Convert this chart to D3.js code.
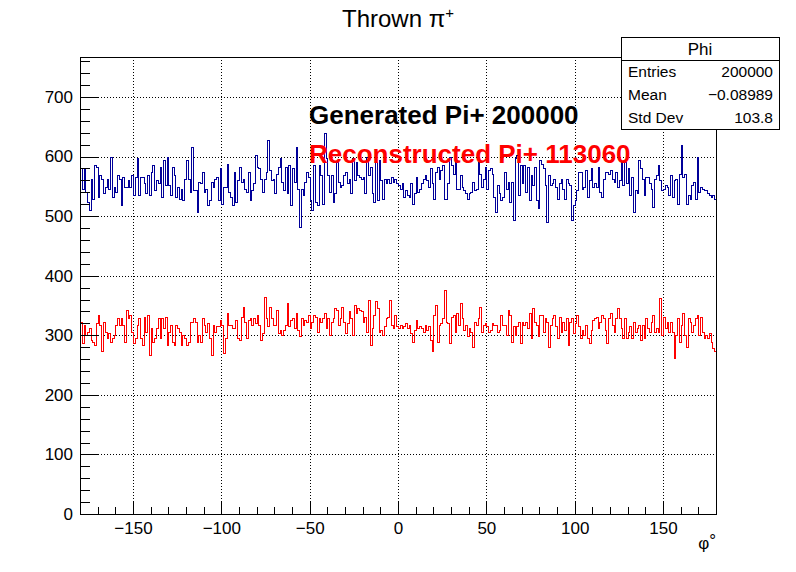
<!DOCTYPE html>
<html><head><meta charset="utf-8">
<script src="https://cdn.jsdelivr.net/npm/d3@7"></script>
<style>body{margin:0;background:#fff}svg{display:block}text{font-family:"Liberation Sans",Arial,Helvetica,sans-serif}</style>
</head><body>
<script>
// Histogram "Phi": 360 bins of 1 degree from -180 to 180
const xMin = -180, xMax = 180, binWidth = 1;
const generated = [
580,546,580,541,524,510,563,529,585,583,532,569,563,538,549,563,546,599,532,549,541,569,563,518,566,549,549,560,549,569,535,566,597,535,566,566,555,538,569,535,574,585,543,560,555,583,532,594,552,599,552,535,583,569,532,549,529,546,527,563,
594,563,541,616,543,543,507,557,555,574,541,546,518,527,557,549,563,566,527,580,521,549,549,588,541,532,518,574,524,560,583,557,563,546,541,574,527,543,555,602,583,580,563,541,563,574,627,577,560,563,538,571,583,597,557,543,583,538,585,518,
580,557,616,546,482,546,535,557,574,566,527,510,585,524,518,585,569,521,639,597,569,541,569,524,538,591,557,549,552,569,574,555,563,538,597,560,591,569,566,563,566,538,599,569,583,538,524,591,527,594,560,529,563,555,563,555,566,557,563,555,
552,546,555,532,543,535,532,555,521,538,566,541,546,555,563,569,560,549,580,555,529,574,583,563,577,585,529,529,555,599,585,571,594,546,546,569,549,543,538,529,538,541,557,543,546,591,571,549,563,583,546,577,580,571,532,507,552,538,527,532,
574,546,557,524,557,493,597,602,535,585,555,585,541,583,527,569,552,583,527,513,594,588,580,552,490,569,552,555,563,549,529,555,563,546,529,563,555,552,493,518,527,543,574,574,546,549,577,532,560,580,549,555,549,583,541,532,563,574,574,571,
577,563,557,574,549,560,591,552,591,555,580,535,566,507,543,538,594,580,563,535,566,566,555,546,515,563,569,585,560,543,546,552,549,535,569,532,560,563,521,571,619,566,571,521,535,529,552,557,529,599,541,549,546,543,543,538,535,532,535,529
];
const reconstructed = [
323,287,317,301,306,312,292,289,284,320,334,317,273,323,306,295,303,289,295,301,317,329,317,329,317,289,343,329,334,306,287,295,317,329,295,284,331,306,334,267,312,289,295,312,329,295,329,312,331,284,306,317,289,284,317,312,306,284,301,295,
284,289,323,323,329,323,289,301,289,329,317,306,320,295,267,317,306,315,315,326,317,270,295,337,317,317,312,312,326,295,292,331,348,323,295,326,329,317,329,320,334,317,292,303,365,329,315,348,329,317,317,343,303,309,301,309,317,354,315,326,
329,312,337,309,298,329,317,326,323,334,312,323,334,331,306,329,323,329,337,312,329,301,323,329,345,343,317,329,348,323,303,320,340,329,301,351,337,345,343,340,323,331,306,359,284,312,334,357,345,306,309,301,315,329,331,359,317,312,334,315,
312,317,312,315,320,312,317,303,289,309,326,312,315,312,306,317,309,315,292,273,334,351,289,317,320,329,376,323,320,287,331,334,306,337,317,354,329,309,317,298,312,306,281,323,317,329,348,306,317,320,315,306,309,320,317,317,306,309,334,317,
317,301,343,334,289,315,301,315,323,287,323,317,323,312,337,295,345,323,317,298,334,334,306,329,323,281,317,329,334,315,295,331,306,323,309,329,284,323,329,303,320,334,315,295,309,301,317,295,287,309,326,329,331,312,323,334,329,309,287,329,
337,317,306,329,345,329,312,295,329,295,306,315,295,323,306,312,317,292,317,295,329,312,306,323,334,306,312,306,362,301,331,312,323,306,323,306,261,301,329,289,317,337,301,281,329,323,306,317,329,334,301,331,306,295,301,295,303,289,278,273
];
const xTicks = [-150,-100,-50,0,50,100,150];
const yTicks = [0,100,200,300,400,500,600,700];
const yMax = 767;
const titleText = "Thrown \u03C0";
const statsTitle = "Phi";
const statsRows = [["Entries","200000"],["Mean","\u22120.08989"],["Std Dev","103.8"]];
const label1 = "Generated Pi+ 200000";
const label2 = "Reconstructed Pi+ 113060";

const W = 796, H = 572;
const L = 80, R = 716, T = 57, B = 514;
const svg = d3.select("body").append("svg").attr("width", W).attr("height", H);
svg.append("rect").attr("width", W).attr("height", H).attr("fill", "#fff");

const x = d3.scaleLinear().domain([xMin, xMax]).range([L, R]);
const y = d3.scaleLinear().domain([0, yMax]).range([B, T]);

// grid
const grid = svg.append("g").attr("stroke", "#000").attr("stroke-width", 1).attr("stroke-dasharray", "1,2");
xTicks.forEach(v => grid.append("line").attr("x1", Math.round(x(v))+0.5).attr("x2", Math.round(x(v))+0.5).attr("y1", T).attr("y2", B));
yTicks.filter(v => v > 0).forEach(v => grid.append("line").attr("x1", L).attr("x2", R).attr("y1", Math.round(y(v))+0.5).attr("y2", Math.round(y(v))+0.5));

// histograms
function stepPath(vals) {
  const p = d3.path();
  vals.forEach((v, i) => {
    const x0 = Math.round(x(xMin + i*binWidth))+0.5, x1 = Math.round(x(xMin + (i+1)*binWidth))+0.5, yy = Math.round(y(v))+0.5;
    if (i === 0) p.moveTo(x0, yy); else p.lineTo(x0, yy);
    p.lineTo(x1, yy);
  });
  return p.toString();
}
svg.append("path").attr("d", stepPath(generated)).attr("fill", "none").attr("stroke", "#000099").attr("stroke-width", 1).attr("shape-rendering", "crispEdges");
svg.append("path").attr("d", stepPath(reconstructed)).attr("fill", "none").attr("stroke", "#ff0000").attr("stroke-width", 1).attr("shape-rendering", "crispEdges");

// frame
svg.append("rect").attr("x", L+0.5).attr("y", T+0.5).attr("width", R-L).attr("height", B-T).attr("fill", "none").attr("stroke", "#000").attr("stroke-width", 1);

// x axis
const xAxis = d3.axisBottom(x).tickValues(xTicks).tickSize(0).tickPadding(0).tickFormat(d => d3.format("")(d).replace("-", "\u2212"));
const gx = svg.append("g").attr("transform", `translate(0,${B})`).call(xAxis);
gx.select(".domain").remove();
gx.selectAll("text").attr("dy", null).attr("y", 20).attr("font-size", 17).attr("fill", "#000").attr("font-family", "Liberation Sans, Arial, sans-serif");
const tk = svg.append("g").attr("stroke", "#000").attr("stroke-width", 1);
d3.range(-170, 180, 10).forEach(v => {
  const len = (v % 50 === 0) ? 13 : 7;
  tk.append("line").attr("x1", Math.round(x(v))+0.5).attr("x2", Math.round(x(v))+0.5).attr("y1", B).attr("y2", B-len);
});
// y axis
const yAxis = d3.axisLeft(y).tickValues(yTicks).tickSize(0).tickPadding(7);
const gy = svg.append("g").attr("transform", `translate(${L},0)`).call(yAxis);
gy.select(".domain").remove();
gy.selectAll("text").attr("font-size", 17).attr("fill", "#000").attr("font-family", "Liberation Sans, Arial, sans-serif");
d3.range(0, yMax, 20).forEach(v => {
  const len = (v % 100 === 0) ? 19 : 10;
  tk.append("line").attr("x1", L).attr("x2", L+len).attr("y1", Math.round(y(v))+0.5).attr("y2", Math.round(y(v))+0.5);
});

// x axis title
const xt = svg.append("text").attr("x", R).attr("y", 549).attr("text-anchor", "end").attr("font-size", 17);
xt.append("tspan").text("\u03C6");
xt.append("tspan").text("\u00B0").attr("dy", -3);

// title
const tt = svg.append("text").attr("x", 398).attr("y", 27).attr("text-anchor", "middle").attr("font-size", 24);
tt.append("tspan").text(titleText);
tt.append("tspan").text("+").attr("font-size", 15).attr("dy", -9);

// labels
svg.append("text").attr("x", 309).attr("y", 124).attr("font-size", 26).attr("font-weight", "bold").attr("fill", "#000").text(label1);
svg.append("text").attr("x", 309).attr("y", 163).attr("font-size", 26).attr("font-weight", "bold").attr("fill", "#ff0000").text(label2);

// stats box
const sb = svg.append("g");
sb.append("rect").attr("x", 621.5).attr("y", 37.5).attr("width", 158).attr("height", 92).attr("fill", "#fff").attr("stroke", "#000");
sb.append("line").attr("x1", 621.5).attr("x2", 779.5).attr("y1", 60.5).attr("y2", 60.5).attr("stroke", "#000");
sb.append("text").attr("x", 700).attr("y", 55).attr("text-anchor", "middle").attr("font-size", 17).text(statsTitle);
statsRows.forEach((r, i) => {
  const yy = 77 + i*23;
  sb.append("text").attr("x", 628).attr("y", yy).attr("font-size", 15.5).text(r[0]);
  sb.append("text").attr("x", 773).attr("y", yy).attr("text-anchor", "end").attr("font-size", 15.5).text(r[1]);
});
</script>
</body></html>
